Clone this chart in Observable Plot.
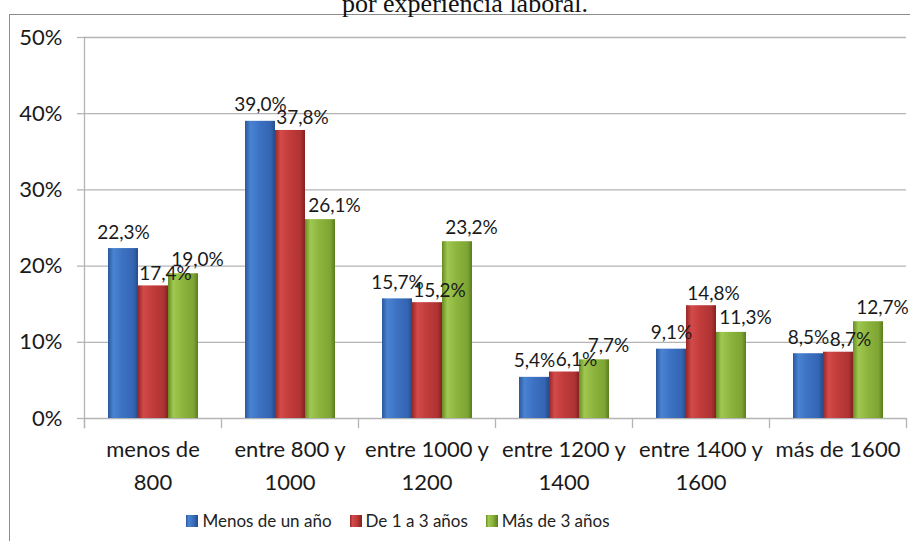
<!DOCTYPE html>
<html><head><meta charset="utf-8">
<script src="https://cdn.jsdelivr.net/npm/d3@7"></script>
<script src="https://cdn.jsdelivr.net/npm/@observablehq/plot@0.6"></script>
<style>
body{margin:0;background:#fff;width:910px;height:541px;overflow:hidden;position:relative;font-family:Lato,sans-serif;}
#frame{position:absolute;left:9px;top:14px;width:1000px;height:600px;border-left:1.5px solid #8c8c8c;border-top:1.5px solid #8c8c8c;}
#title{position:absolute;left:0;width:930px;text-align:center;top:-9px;font:26px/26px "Liberation Serif",serif;color:#111;white-space:nowrap;}
#chart{position:absolute;left:0;top:0;}
#legend{position:absolute;top:508px;left:0;width:796px;display:flex;justify-content:center;gap:18px;font:17px/26px Lato,sans-serif;color:#222;}
#legend span.item{display:flex;align-items:center;gap:4px;}
#legend span.sw{display:inline-block;width:12px;height:12px;}
</style></head>
<body>
<div id="frame"></div>
<div id="title">por experiencia laboral.</div>
<div id="chart"></div>
<div id="legend"></div>
<script>
const categories = ["menos de\n800","entre 800 y\n1000","entre 1000 y\n1200","entre 1200 y\n1400","entre 1400 y\n1600","más de 1600"];
const seriesNames = ["Menos de un año","De 1 a 3 años","Más de 3 años"];
const menosDeUnAno = [22.3,39.0,15.7,5.4,9.1,8.5];
const deUnoATres = [17.4,37.8,15.2,6.1,14.8,8.7];
const masDeTres = [19.0,26.1,23.2,7.7,11.3,12.7];
const yTicks = [0,10,20,30,40,50];

const seriesValues = [menosDeUnAno, deUnoATres, masDeTres];
const gradIds = ["gBlue","gRed","gGreen"];
const gradStops = [
  ["#2a579c","#4a83d2","#3c71c2","#3465b2","#264c8a"],
  ["#962626","#d24a4a","#c23b3b","#ae3333","#842121"],
  ["#678c24","#a0c850","#8cb43c","#7ea433","#5b7c1e"]
];
const data = [];
seriesNames.forEach((s, si) => categories.forEach((c, ci) => data.push({cat: c, series: s, value: seriesValues[si][ci]})));
const fmt = d => d.value.toFixed(1).replace(".", ",") + "%";
const labelDx = [0, 12, 14];
const labelDy = [-10, -6, -8];
const gray = "#b4b4b4";

const chart = Plot.plot({
  width: 910, height: 500,
  marginLeft: 83, marginRight: 4, marginTop: 37, marginBottom: 82,
  style: {fontFamily: "Lato, sans-serif", color: "#1a1a1a", background: "transparent"},
  fx: {domain: categories, paddingInner: 0, paddingOuter: 0, label: null},
  x: {domain: seriesNames, paddingInner: 0, paddingOuter: 0.75, axis: null},
  y: {domain: [0, 50], label: null},
  color: {domain: seriesNames, range: gradIds.map(id => `url(#${id})`)},
  marks: [
    Plot.gridY(yTicks, {stroke: gray, strokeOpacity: 1, strokeWidth: 1.3}),
    Plot.frame({anchor: "left", facetAnchor: "left", stroke: gray, strokeWidth: 1.3, insetBottom: -9}),
    Plot.frame({anchor: "left", stroke: gray, strokeWidth: 1.3, insetTop: 381, insetBottom: -9}),
    Plot.frame({anchor: "right", facetAnchor: "right", stroke: gray, strokeWidth: 1.3, insetTop: 381, insetBottom: -9}),
    Plot.axisY(yTicks, {tickSize: 7, tickPadding: 15, tickFormat: d => d + "%", fontSize: 22, stroke: gray, strokeWidth: 1.3, label: null}),
    Plot.axisFx({anchor: "bottom", tickSize: 0, tickPadding: 15, fontSize: 22, lineHeight: 1.5, label: null}),
    Plot.barY(data, {fx: "cat", x: "series", y: "value", fill: "series"}),
    ...seriesNames.map((s, si) => Plot.text(data.filter(d => d.series === s), {
      fx: "cat", x: "series", y: "value", text: fmt, lineAnchor: "bottom", dy: labelDy[si], dx: labelDx[si], fontSize: 19, fill: "#1a1a1a"
    }))
  ]
});

const defs = d3.select(chart).insert("defs", ":first-child");
gradIds.forEach((id, i) => {
  const g = defs.append("linearGradient").attr("id", id).attr("x1", 0).attr("x2", 1).attr("y1", 0).attr("y2", 0);
  [0, 0.18, 0.5, 0.85, 1].forEach((o, k) => g.append("stop").attr("offset", o).attr("stop-color", gradStops[i][k]));
});
document.getElementById("chart").appendChild(chart);

const legend = document.getElementById("legend");
seriesNames.forEach((s, i) => {
  const st = gradStops[i];
  legend.insertAdjacentHTML("beforeend",
    `<span class="item"><span class="sw" style="background:linear-gradient(to right, ${st[0]}, ${st[1]} 20%, ${st[2]} 55%, ${st[4]})"></span>${s}</span>`);
});
</script>
</body></html>
